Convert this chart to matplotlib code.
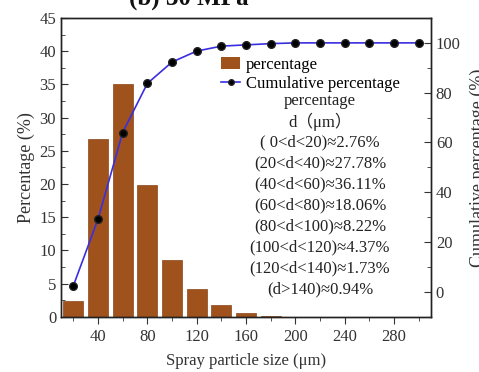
import matplotlib
matplotlib.use('Agg')
import matplotlib.pyplot as plt
from matplotlib.patches import Patch
from matplotlib.lines import Line2D
from matplotlib.ticker import MultipleLocator

# data
sizes = [20, 40, 60, 80, 100, 120, 140, 160, 180]
percentage = [2.4, 26.7, 35.0, 19.9, 8.6, 4.2, 1.7, 0.5, 0.1]
cum_x = [20, 40, 60, 80, 100, 120, 140, 160, 180, 200, 220, 240, 260, 280, 300]
cumulative = [2.4, 29.2, 64.0, 83.7, 92.3, 96.7, 98.7, 99.2, 99.7, 100, 100, 100, 100, 100, 100]
x_ticks = [40, 80, 120, 160, 200, 240, 280]
notes = ['percentage', 'd（μm）',
         '( 0<d<20)≈2.76%', '(20<d<40)≈27.78%', '(40<d<60)≈36.11%',
         '(60<d<80)≈18.06%', '(80<d<100)≈8.22%', '(100<d<120)≈4.37%',
         '(120<d<140)≈1.73%', '(d>140)≈0.94%']

plt.rcParams['font.family'] = ['Liberation Serif', 'Noto Sans CJK SC', 'DejaVu Sans']
plt.rcParams['font.size'] = 12

W, H = 479, 372
fig = plt.figure(figsize=(W / 100, H / 100), dpi=100)
ax = fig.add_axes([61 / W, 1 - 316.7 / H, 370 / W, 298.7 / H])

bar_col = '#A0521C'
ax.bar(sizes, percentage, width=16, color=bar_col, edgecolor='#8a4616', linewidth=0.5)
ax.set_xlim(10, 310)
ax.set_ylim(0, 45)
ax.set_xticks(x_ticks)
ax.xaxis.set_minor_locator(MultipleLocator(20))
ax.yaxis.set_major_locator(MultipleLocator(5))
ax.yaxis.set_minor_locator(MultipleLocator(2.5))
ax.tick_params(axis='y', which='both', direction='in')
ax.tick_params(axis='x', which='both', direction='out')
ax.tick_params(which='major', length=5, labelsize=12, colors='#333333', labelcolor='#333333')
ax.tick_params(which='minor', length=3, colors='#333333')
ax.set_xlabel('Spray particle size (μm)', fontsize=12, labelpad=6, color='#333333')
ax.set_ylabel('Percentage (%)', fontsize=13, color='#333333')
ax.yaxis.set_label_coords(-0.07, 0.5)

ax2 = ax.twinx()
ax2.plot(cum_x, cumulative, color='#3a2fe0', lw=1.2, marker='o',
         markersize=5.5, markerfacecolor='black', markeredgecolor='#222222')
ax2.set_ylim(-10, 110)
ax2.yaxis.set_minor_locator(MultipleLocator(10))
ax2.set_yticks([0, 20, 40, 60, 80, 100])
ax2.tick_params(axis='y', which='both', direction='in')
ax2.tick_params(which='major', length=5, labelsize=12, colors='#333333', labelcolor='#333333')
ax2.tick_params(which='minor', length=3, colors='#333333')
ax2.set_ylabel('Cumulative percentage (%)', fontsize=13, color='#333333')
ax2.yaxis.set_label_coords(1.105, 0.5)

for a in (ax, ax2):
    for s in a.spines.values():
        s.set_linewidth(1.0)
        s.set_color('#222222')

handles = [Patch(facecolor=bar_col, edgecolor='none'),
           Line2D([0], [0], color='#3a2fe0', lw=1.2, marker='o', markersize=4,
                  markerfacecolor='black', markeredgecolor='#222222')]
ax2.legend(handles, ['percentage', 'Cumulative percentage'], loc='upper left',
           bbox_to_anchor=((221 - 61) / 370, (316.7 - 57) / 298.7),
           frameon=False, borderpad=0, borderaxespad=0, handlelength=1.15,
           handletextpad=0.35, labelspacing=0.15, fontsize=12)

for i, t in enumerate(notes):
    yp = 101 + i * 20.9
    ax2.text((320 - 61) / 370, (316.7 - yp) / 298.7, t, transform=ax.transAxes,
             ha='center', va='center', fontsize=12, color='#222222')

fig.text(189 / W, 1 - 5 / H, '(b) 30 MPa', ha='center', va='baseline',
         fontsize=18, fontweight='bold', color='#111111')

fig.savefig('out.png', dpi=100)
